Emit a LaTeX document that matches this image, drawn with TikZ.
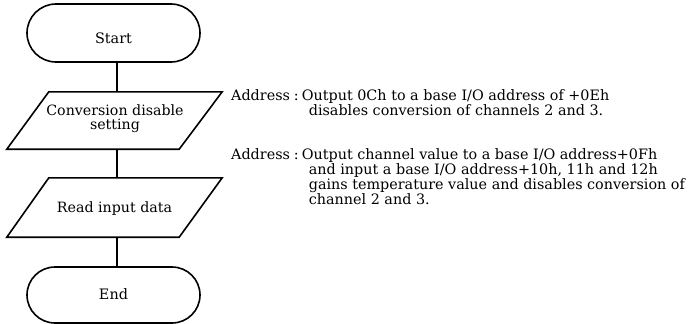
\documentclass[tikz,border=0pt]{standalone}
\usepackage{fontspec}
\setmainfont{DejaVu Serif}
\usetikzlibrary{shapes.misc}
\newlength\addrw
\newcommand\addrpre{Address\hspace{4pt}:\hspace{3pt}}
\begin{document}
\begin{tikzpicture}[x=1pt,y=-1pt,
  term/.style={rounded rectangle, draw, line width=1.6pt, minimum width=173pt, inner sep=0pt, font=\fontsize{14.4}{14.3}\selectfont},
  iobox/.style={rectangle, draw=none, minimum width=215pt, inner sep=0pt, font=\fontsize{14.2}{14.3}\selectfont},
  edge/.style={line width=1.6pt},
  note/.style={anchor=base west, inner sep=0pt, font=\fontsize{14.35}{13.7}\selectfont}]
\useasboundingbox (0,0) rectangle (689,324);
\node[term, minimum height=58pt, text height=21pt, text depth=0pt] (start) at (113.5,33) {Start};
\node[iobox, minimum height=57pt, text height=0pt, text depth=11pt] (conv) at (115,120.5)
  {\parbox[t]{200pt}{\centering Conversion disable\\setting}};
\node[iobox, minimum height=59pt, text depth=0pt] (read) at (114.5,207.5) {Read input data};
\node[term, minimum height=56pt, text height=8pt, text depth=0pt] (stop) at (113.5,295) {End};
\draw[edge] ([xshift=-0.5pt]conv.south west) -- ([xshift=41.5pt]conv.north west) -- ([xshift=-0.5pt]conv.north east) -- ([xshift=-43.5pt]conv.south east) -- cycle;
\draw[edge] (read.south west) -- ([xshift=42pt]read.north west) -- (read.north east) -- ([xshift=-43pt]read.south east) -- cycle;
\draw[edge] ([xshift=3.5pt]start.south) -- ([xshift=2pt]conv.north);
\draw[edge] ([xshift=2pt]conv.south) -- ([xshift=2.5pt]read.north);
\draw[edge] ([xshift=2.5pt]read.south) -- ([xshift=3.5pt]stop.north);
\node[note] (note1) at (231,100.7) {\parbox[t]{455pt}{\settowidth{\addrw}{\addrpre}\raggedright\hangindent=\dimexpr\addrw+7pt\relax\hangafter=1
  \addrpre Output 0Ch to a base I/O address of +0Eh\newline disables conversion of channels 2 and 3.}};
\node[note] (note2) at (231,159.8) {\parbox[t]{455pt}{\settowidth{\addrw}{\addrpre}\raggedright\hangindent=\dimexpr\addrw+7pt\relax\hangafter=1
  \addrpre Output channel value to a base I/O address+0Fh\newline and input a base I/O address+10h, 11h and 12h\newline gains temperature value and disables conversion of\newline channel 2 and 3.}};
\end{tikzpicture}
\end{document}
